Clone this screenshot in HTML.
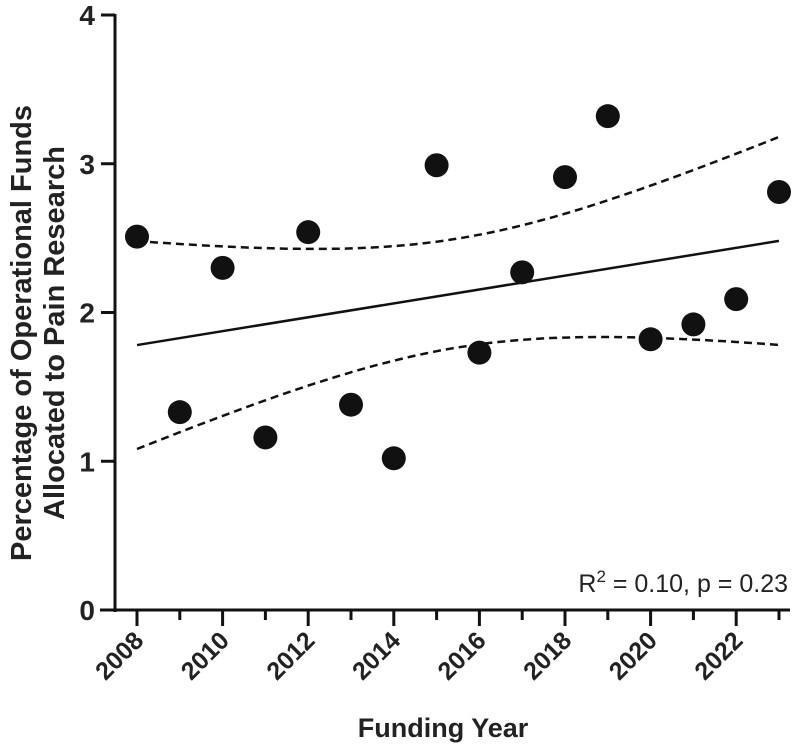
<!DOCTYPE html>
<html><head><meta charset="utf-8"><style>
body{margin:0;background:#fff;}
svg{display:block;font-family:"Liberation Sans",Arial,sans-serif;}
</style></head><body>
<svg id="chart" width="800" height="753" viewBox="0 0 800 753">
<g id="bands"></g>
<g id="fit"></g>
<g id="pts"></g>
<g id="axes"></g>
<text x="31" y="333" transform="rotate(-90 31 333)" text-anchor="middle" font-size="29" font-weight="bold" fill="#222">Percentage of Operational Funds</text>
<text x="64" y="333" transform="rotate(-90 64 333)" text-anchor="middle" font-size="29" font-weight="bold" fill="#222">Allocated to Pain Research</text>
<text x="443" y="737" text-anchor="middle" font-size="27" font-weight="bold" fill="#222">Funding Year</text>
<text x="788" y="592" text-anchor="end" font-size="25" fill="#222">R<tspan dy="-10" font-size="17">2</tspan><tspan dy="10"> = 0.10, p = 0.23</tspan></text>
</svg>
<script>
const years=[2008,2009,2010,2011,2012,2013,2014,2015,2016,2017,2018,2019,2020,2021,2022,2023];
const values=[2.51,1.33,2.30,1.16,2.54,1.38,1.02,2.99,1.73,2.27,2.91,3.32,1.82,1.92,2.09,2.81];
const yTicks=[0,1,2,3,4];
const xTickLabels=[2008,2010,2012,2014,2016,2018,2020,2022];
const NS="http://www.w3.org/2000/svg";
const X=v=>137+(v-2008)*(779-137)/15;
const Y=v=>610-v*148.75;
function mk(tag,attrs,parent){const e=document.createElementNS(NS,tag);for(const k in attrs)e.setAttribute(k,attrs[k]);document.getElementById(parent).appendChild(e);return e;}
const n=years.length;
const mx=years.reduce((a,b)=>a+b)/n, my=values.reduce((a,b)=>a+b)/n;
let sxx=0,sxy=0;for(let i=0;i<n;i++){sxx+=(years[i]-mx)**2;sxy+=(years[i]-mx)*(values[i]-my);}
const slope=sxy/sxx, icpt=my-slope*mx;
let sse=0;for(let i=0;i<n;i++)sse+=(values[i]-icpt-slope*years[i])**2;
const s=Math.sqrt(sse/(n-2)), t=2.145;
let up=[],lo=[];
for(let k=0;k<=60;k++){const x=2008+15*k/60;const f=icpt+slope*x;const h=t*s*Math.sqrt(1/n+(x-mx)**2/sxx);
up.push(X(x).toFixed(1)+","+Y(f+h).toFixed(1));lo.push(X(x).toFixed(1)+","+Y(f-h).toFixed(1));}
let e=mk('polyline',{points:up.join(' '),fill:'none',stroke:'#111','stroke-width':2.5,'stroke-dasharray':'8,5'},'bands');


e=mk('polyline',{points:lo.join(' '),fill:'none',stroke:'#111','stroke-width':2.5,'stroke-dasharray':'8,5'},'bands');


e=mk('line',{x1:X(2008),y1:Y(icpt+slope*2008),x2:X(2023),y2:Y(icpt+slope*2023),stroke:'#111','stroke-width':2.5},'fit');


years.forEach((yr,i)=>{const c=mk('circle',{cx:X(yr),cy:Y(values[i]),r:12,fill:'#111'},'pts');

});
e=mk('line',{x1:115,y1:14,x2:115,y2:612,stroke:'#111','stroke-width':3},'axes');


e=mk('line',{x1:100,y1:610,x2:790,y2:610,stroke:'#111','stroke-width':3},'axes');


yTicks.forEach(v=>{mk('line',{x1:101,y1:Y(v),x2:115,y2:Y(v),stroke:'#111','stroke-width':3},'axes');
const tx=mk('text',{x:95,y:Y(v)+10,'text-anchor':'end','font-size':28,'font-weight':'bold',fill:'#222'},'axes');tx.textContent=v;

});
years.forEach(yr=>{const major=xTickLabels.includes(yr);mk('line',{x1:X(yr),y1:610,x2:X(yr),y2:major?626:620,stroke:'#111','stroke-width':3},'axes');});
xTickLabels.forEach(yr=>{const x=X(yr)+8,y=642;const tx=mk('text',{x:x,y:y,'text-anchor':'end','font-size':25,'font-weight':'bold',fill:'#222',transform:`rotate(-45 ${x} ${y})`},'axes');tx.textContent=yr;

});
</script>
</body></html>
